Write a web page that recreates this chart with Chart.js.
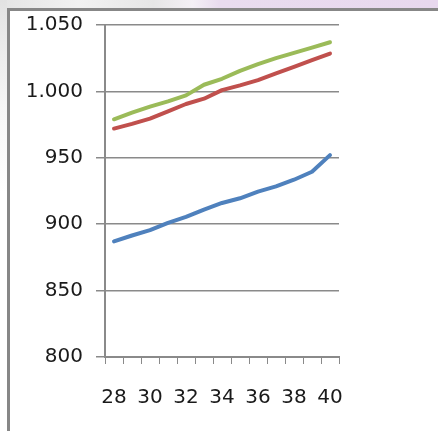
<!DOCTYPE html>
<html>
<head>
<meta charset="utf-8">
<script src="https://cdn.jsdelivr.net/npm/chart.js@4/dist/chart.umd.min.js"></script>
<style>
  html, body { margin: 0; padding: 0; background: #ffffff; }
  #wrap { position: relative; width: 440px; height: 431px; overflow: hidden; background: #ffffff; }
  /* soft background band above the frame */
  #bandTop {
    position: absolute; left: 0; top: 0; width: 438px; height: 9px;
    background: linear-gradient(90deg, #e4e4e4 0%, #f2f2f2 18%, #e6e6e6 35%, #f4f0f6 44%, #e9dcef 50%, #e8d8ee 100%);
  }
  #bandLeft {
    position: absolute; left: 0; top: 0; width: 7px; height: 431px;
    background: linear-gradient(180deg, #e2e2e2 0%, #ececec 12%, #f6f6f6 25%, #ffffff 45%);
  }
  #frameTop { position: absolute; left: 7px; top: 8px; width: 431px; height: 3px; background: #878787; }
  #frameLeft { position: absolute; left: 7px; top: 8px; width: 3px; height: 423px; background: #878787; }
  canvas { position: absolute; left: 0; top: 0; }
</style>
</head>
<body>
<div id="wrap">
  <div id="bandTop"></div>
  <div id="bandLeft"></div>
  <div id="frameTop"></div>
  <div id="frameLeft"></div>
  <canvas id="chart" width="440" height="431"></canvas>
</div>
<script>
// Weeks on the category axis
const weeks = ['28', '29', '30', '31', '32', '33', '34', '35', '36', '37', '38', '39', '40'];

// Series values per week
const greenSeries = [979, 984, 988.5, 992.5, 997, 1005, 1009.5, 1015.5, 1020.5, 1025, 1029, 1033, 1037];
const redSeries   = [972, 975.5, 979.5, 985, 990.5, 994.5, 1001, 1004.5, 1008.5, 1013.5, 1018.5, 1023.5, 1028.5];
const blueSeries  = [887, 891.5, 895.5, 901, 905.5, 911, 916, 919.5, 924.5, 928.5, 933.5, 939.5, 952];

// Value axis range and step
const yMin = 800;
const yMax = 1050;
const yStep = 50;

const fmt = new Intl.NumberFormat('de-DE');
const axisGray = '#8a8a8a';

function lineSet(data, color) {
  return {
    data: data,
    borderColor: color,
    backgroundColor: color,
    borderWidth: 4,
    borderCapStyle: 'round',
    borderJoinStyle: 'round',
    pointRadius: 0,
    tension: 0,
    fill: false
  };
}

new Chart(document.getElementById('chart'), {
  type: 'line',
  data: {
    labels: weeks,
    datasets: [
      lineSet(greenSeries, '#9bbb59'),
      lineSet(redSeries, '#c0504d'),
      lineSet(blueSeries, '#4f81bd')
    ]
  },
  options: {
    responsive: false,
    animation: false,
    layout: { padding: { left: 0, top: 24, right: 101, bottom: 20 } },
    plugins: { legend: { display: false }, tooltip: { enabled: false } },
    scales: {
      x: {
        type: 'category',
        offset: true,
        grid: {
          display: true,
          offset: true,
          drawOnChartArea: false,
          drawTicks: true,
          tickLength: 7,
          color: axisGray,
          lineWidth: 1
        },
        border: { display: true, color: axisGray, width: 2 },
        ticks: {
          autoSkip: false,
          maxRotation: 0,
          padding: 22,
          color: '#1a1a1a',
          font: { family: 'DejaVu Sans', size: 20 },
          callback: function (value, index) {
            return index % 2 === 0 ? this.getLabelForValue(value) : '';
          }
        },
        afterFit: function (scale) { scale.height = 54; }
      },
      y: {
        min: yMin,
        max: yMax,
        ticks: {
          stepSize: yStep,
          padding: 13,
          color: '#1a1a1a',
          font: { family: 'DejaVu Sans', size: 20 },
          callback: function (value) { return fmt.format(value); }
        },
        grid: {
          color: axisGray,
          lineWidth: 1.5,
          drawTicks: true,
          tickLength: 9
        },
        border: { display: true, color: axisGray, width: 2 },
        afterFit: function (scale) { scale.width = 105; }
      }
    }
  }
});
</script>
</body>
</html>
